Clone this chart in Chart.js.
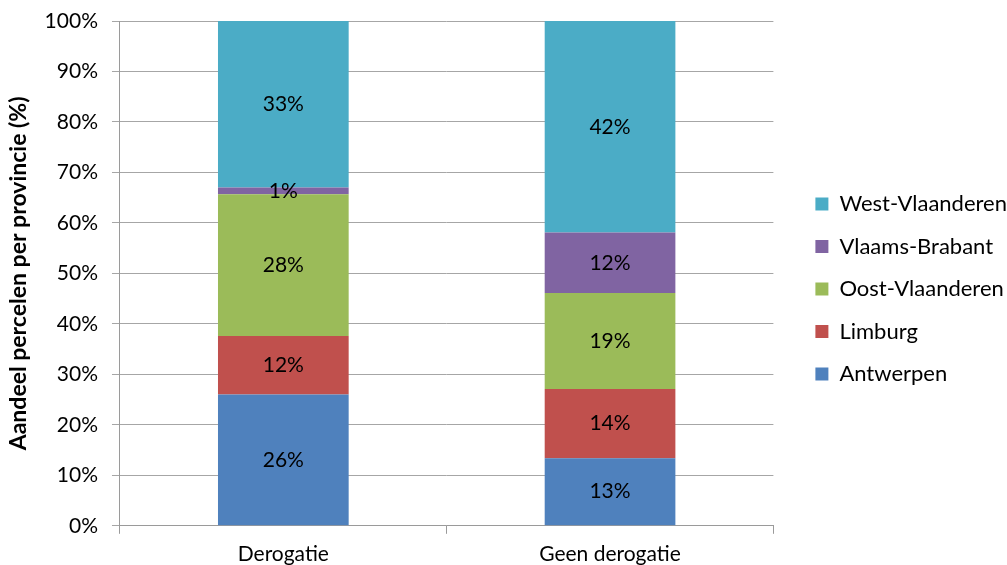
<!DOCTYPE html>
<html>
<head>
<meta charset="utf-8">
<script src="https://cdn.jsdelivr.net/npm/chart.js@4"></script>
<style>
  body { margin: 0; background: #fff; }
  #wrap { width: 1007px; height: 565px; }
</style>
</head>
<body>
<div id="wrap"><canvas id="myChart" width="1007" height="565"></canvas></div>
<script>
const categories = ['Derogatie', 'Geen derogatie'];
const antwerpen = [26.0, 13.4];
const limburg = [11.6, 13.7];
const oostVlaanderen = [28.1, 19.0];
const vlaamsBrabant = [1.3, 12.0];
const westVlaanderen = [33.0, 41.9];
const yTicks = [0, 10, 20, 30, 40, 50, 60, 70, 80, 90, 100];

const FONT = 'Lato, "Open Sans", sans-serif';

// inline label plugin, draws the rounded % in the middle of each segment
const segmentLabels = {
  id: 'segmentLabels',
  afterDatasetsDraw(chart) {
    const ctx = chart.ctx;
    ctx.save();
    ctx.font = '21px ' + FONT;
    ctx.fillStyle = '#000';
    ctx.textAlign = 'center';
    ctx.textBaseline = 'middle';
    chart.data.datasets.forEach((ds, i) => {
      chart.getDatasetMeta(i).data.forEach((bar, j) => {
        const p = bar.getCenterPoint();
        ctx.fillText(Math.round(ds.data[j]) + '%', p.x, p.y);
      });
    });
    ctx.restore();
  }
};

const ctx = document.getElementById('myChart').getContext('2d');
const myChart = new Chart(ctx, {
  type: 'bar',
  data: {
    labels: categories,
    datasets: [
      { label: 'Antwerpen', data: antwerpen, backgroundColor: '#4F81BD' },
      { label: 'Limburg', data: limburg, backgroundColor: '#C0504D' },
      { label: 'Oost-Vlaanderen', data: oostVlaanderen, backgroundColor: '#9BBB59' },
      { label: 'Vlaams-Brabant', data: vlaamsBrabant, backgroundColor: '#8064A2' },
      { label: 'West-Vlaanderen', data: westVlaanderen, backgroundColor: '#4BACC6' },
    ],
  },
  options: {
    responsive: false,
    animation: false,
    layout: { padding: { top: 3, right: -10, left: 0, bottom: -10 } },
    datasets: {
      bar: { categoryPercentage: 1, barPercentage: 0.4 },
    },
    scales: {
      x: {
        stacked: true,
        offset: true,
        grid: {
          offset: true,
          drawOnChartArea: false,
          drawTicks: true,
          tickLength: 8,
          color: '#9a9a9a',
        },
        border: { color: '#9a9a9a' },
        ticks: { color: '#000', font: { family: FONT, size: 21 }, padding: 8 },
      },
      y: {
        stacked: true,
        min: 0,
        max: 100,
        afterBuildTicks(axis) {
          axis.ticks = yTicks.map(v => ({ value: v }));
        },
        afterFit(axis) { axis.paddingTop = 21; },
        grid: { color: '#a6a6a6', tickLength: 8 },
        border: { color: '#9a9a9a' },
        ticks: {
          color: '#000',
          font: { family: FONT, size: 21 },
          padding: 14,
          callback: v => v + '%',
        },
        title: {
          display: true,
          text: 'Aandeel percelen per provincie (%)',
          color: '#000',
          font: { family: FONT, size: 23, weight: 'bold' },
          padding: { top: 5, bottom: -2 },
        },
      },
      // empty spacer between plot and legend
      gap: {
        type: 'linear',
        position: 'right',
        min: 0,
        max: 1,
        grid: { display: false },
        border: { display: false },
        ticks: { display: false },
        afterFit(axis) { axis.width = 21.5; axis.paddingTop = 21; },
      },
    },
    plugins: {
      legend: {
        position: 'right',
        reverse: true,
        maxWidth: 300,
        labels: {
          boxWidth: 13,
          boxHeight: 13,
          padding: 20.5,
          color: '#000',
          font: { family: FONT, size: 22 },
        },
      },
      tooltip: { enabled: false },
    },
  },
  plugins: [segmentLabels],
});
</script>
</body>
</html>
